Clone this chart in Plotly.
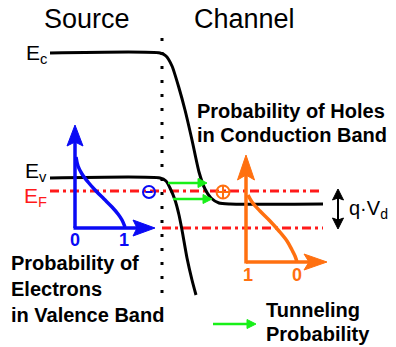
import plotly.graph_objects as go

# ---------------- data (pixel-space schematic coordinates) ----------------
EC_X = [50, 160, 166, 172, 179, 185, 192, 199, 205, 211, 219, 230, 323]
EC_Y = [53, 53, 56, 66, 88, 110, 140, 172, 189, 198, 203, 204, 204]

EV_X = [50, 160, 166, 170, 175, 179, 182, 187, 192, 196]
EV_Y = [178, 178, 181, 188, 200, 215, 230, 258, 280, 295]

DOT_X = [162, 162]
DOT_Y = [38, 293]

EF_X = [50, 323]
EF_Y = [191, 191]
EFD_X = [162, 323]
EFD_Y = [228, 228]

BLUE_CURVE_X = [76, 78, 82, 88, 96, 104, 112, 118, 122, 125]
BLUE_CURVE_Y = [157, 166, 174, 182, 191, 199, 207, 214, 220, 227]
BLUE_ORIGIN = (75, 228)
BLUE_UP_TIP = (75, 125)
BLUE_RIGHT_TIP = (155, 228)

ORANGE_CURVE_X = [248, 252, 260, 270, 279, 287, 292, 295, 297]
ORANGE_CURVE_Y = [195, 202, 211, 221, 231, 241, 250, 256, 262]
ORANGE_ORIGIN = (246, 262)
ORANGE_UP_TIP = (246, 155)
ORANGE_RIGHT_TIP = (327, 262)

GREEN_ARROWS = [((168, 183), (207, 183)), ((173, 199), (212, 199)), ((213, 324), (256, 324))]
QVD_X = 338
QVD_Y = (189, 229)

ELECTRON = (149, 192)
HOLE = (223, 192)

BLUE = "#0a0af5"
ORANGE = "#ff7010"
RED = "#ff1a1a"
GREEN = "#18f018"
FONT = "Liberation Sans, Arial, sans-serif"

PAGE_W, PAGE_H = 396, 347

fig = go.Figure()


def add_line(xs, ys, color, width, dash="solid", shape="linear", smoothing=1.0):
    fig.add_trace(go.Scatter(x=xs, y=ys, mode="lines",
                             line=dict(color=color, width=width, dash=dash,
                                       shape=shape, smoothing=smoothing),
                             hoverinfo="skip", showlegend=False))


def add_head(tip, direction, length, half_w, color, notch=0.0):
    tx, ty = tip
    dx, dy = direction
    n = (dx * dx + dy * dy) ** 0.5
    dx, dy = dx / n, dy / n
    px, py = -dy, dx
    bx, by = tx - dx * length, ty - dy * length
    nx, ny = tx - dx * (length - notch), ty - dy * (length - notch)
    xs = [tx, bx + px * half_w, nx, bx - px * half_w, tx]
    ys = [ty, by + py * half_w, ny, by - py * half_w, ty]
    fig.add_trace(go.Scatter(x=xs, y=ys, mode="lines", fill="toself",
                             fillcolor=color, line=dict(color=color, width=1),
                             hoverinfo="skip", showlegend=False))


# dotted junction line
add_line(DOT_X, DOT_Y, "black", 3, dash="3px,11px")

# Fermi levels
add_line(EF_X, EF_Y, RED, 3, dash="9px,4px,3px,4px")
add_line(EFD_X, EFD_Y, RED, 3, dash="9px,4px,3px,4px")

# bands
add_line(EC_X, EC_Y, "black", 3, shape="spline", smoothing=0.6)
add_line(EV_X, EV_Y, "black", 3, shape="spline", smoothing=0.6)

# blue distribution axes
add_line([BLUE_ORIGIN[0], BLUE_UP_TIP[0]], [BLUE_ORIGIN[1], BLUE_UP_TIP[1] + 15], BLUE, 3.5)
add_line([BLUE_ORIGIN[0] - 1.5, BLUE_RIGHT_TIP[0] - 15], [BLUE_ORIGIN[1], BLUE_RIGHT_TIP[1]], BLUE, 3.5)
add_head(BLUE_UP_TIP, (0, -1), 21, 8, BLUE, notch=4)
add_head(BLUE_RIGHT_TIP, (1, 0), 22, 8, BLUE, notch=4)
add_line(BLUE_CURVE_X, BLUE_CURVE_Y, BLUE, 3.5, shape="spline")

# orange distribution axes
add_line([ORANGE_ORIGIN[0], ORANGE_UP_TIP[0]], [ORANGE_ORIGIN[1] + 1.5, ORANGE_UP_TIP[1] + 18], ORANGE, 3.5)
add_line([ORANGE_ORIGIN[0], ORANGE_RIGHT_TIP[0] - 18], [ORANGE_ORIGIN[1], ORANGE_RIGHT_TIP[1]], ORANGE, 3.5)
add_head(ORANGE_UP_TIP, (0, -1), 25, 8.5, ORANGE, notch=5)
add_head(ORANGE_RIGHT_TIP, (1, 0), 23, 8, ORANGE, notch=5)
add_line(ORANGE_CURVE_X, ORANGE_CURVE_Y, ORANGE, 3.5, shape="spline")

# tunneling arrows
for (x0, y0), (x1, y1) in GREEN_ARROWS:
    add_line([x0, x1 - 6], [y0, y1], GREEN, 2.5)
    add_head((x1, y1), (1, 0), 9, 4.5, GREEN)

# q*Vd double arrow
add_line([QVD_X, QVD_X], [QVD_Y[0] + 6, QVD_Y[1] - 6], "black", 2)
add_head((QVD_X, QVD_Y[0]), (0, -1), 11, 5.5, "black", notch=2)
add_head((QVD_X, QVD_Y[1]), (0, 1), 11, 5.5, "black", notch=2)

# carriers
fig.add_trace(go.Scatter(x=[ELECTRON[0]], y=[ELECTRON[1]], mode="markers",
                         marker=dict(symbol="circle-open", size=12, color=BLUE,
                                     line=dict(width=2, color=BLUE)),
                         hoverinfo="skip", showlegend=False))
add_line([ELECTRON[0] - 3.5, ELECTRON[0] + 3.5], [ELECTRON[1], ELECTRON[1]], BLUE, 2)
fig.add_trace(go.Scatter(x=[HOLE[0]], y=[HOLE[1]], mode="markers",
                         marker=dict(symbol="circle-cross-open", size=13, color=ORANGE,
                                     line=dict(width=2, color=ORANGE)),
                         hoverinfo="skip", showlegend=False))


def txt(x, y, text, size, color="black", bold=False, xanchor="left"):
    t = f"<b>{text}</b>" if bold else text
    fig.add_annotation(x=x, y=y, text=t, showarrow=False, xanchor=xanchor,
                       yanchor="middle", font=dict(family=FONT, size=size, color=color))


txt(87, 19, "Source", 27, xanchor="center")
txt(244, 19, "Channel", 27, xanchor="center")
txt(49, 54, "E<sub>c</sub>", 21, xanchor="right")
txt(49, 172, "E<sub>v</sub>", 21, xanchor="right")
txt(49, 197, "E<sub>F</sub>", 21, color=RED, xanchor="right")

txt(195, 111, "Probability of Holes", 20, bold=True)
txt(195, 135, "in Conduction Band", 20, bold=True)
txt(9, 263, "Probability of", 20, bold=True)
txt(9, 289, "Electrons", 20, bold=True)
txt(9, 315, "in Valence Band", 20, bold=True)
txt(264, 310, "Tunneling", 20, bold=True)
txt(264, 334, "Probability", 20, bold=True)
txt(347, 209, "q·V<sub>d</sub>", 20)

txt(75, 240, "0", 18, color=BLUE, bold=True, xanchor="center")
txt(124, 240, "1", 18, color=BLUE, bold=True, xanchor="center")
txt(248, 275, "1", 18, color=ORANGE, bold=True, xanchor="center")
txt(297, 275, "0", 18, color=ORANGE, bold=True, xanchor="center")

fig.update_layout(width=PAGE_W, height=PAGE_H,
                  margin=dict(l=0, r=0, t=0, b=0),
                  plot_bgcolor="white", paper_bgcolor="white", showlegend=False,
                  xaxis=dict(range=[0, PAGE_W], visible=False, fixedrange=True),
                  yaxis=dict(range=[PAGE_H, 0], visible=False, fixedrange=True))

fig.write_html("out.html", config={"displayModeBar": False},
               post_script="document.body.style.margin='0';document.body.style.overflow='hidden';")
